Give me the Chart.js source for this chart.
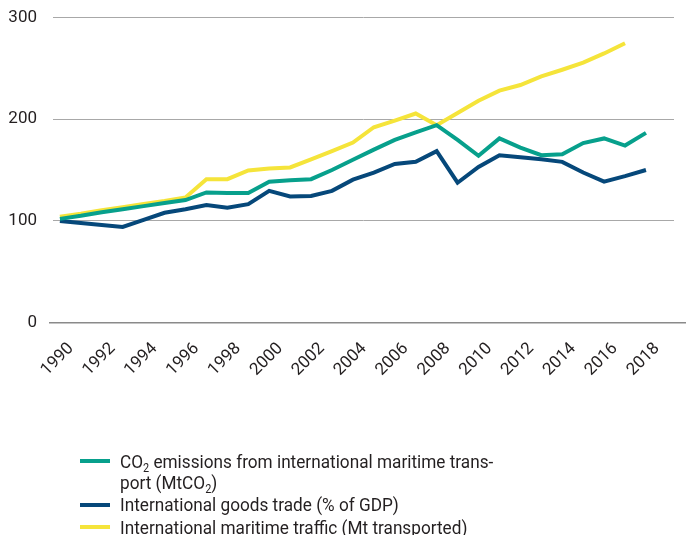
<!DOCTYPE html>
<html>
<head>
<meta charset="utf-8">
<script src="https://cdn.jsdelivr.net/npm/chart.js@4"></script>
<style>
  html, body { margin: 0; padding: 0; background: #fff; overflow: hidden; }
  #wrap { position: relative; width: 686px; height: 535px; overflow: hidden; }
  #legend { position: absolute; left: 80px; top: 450.5px; font-family: Roboto, sans-serif; font-size: 19px; color: #231f20; }
  .row { position: relative; height: 21px; line-height: 21px; white-space: nowrap; }
  .row.first { margin-top: 1.5px; }
  .row.first:first-child { margin-top: 0; }
  .sw { position: absolute; left: 0; width: 30px; height: 4px; top: 8.5px; }
  .tx { position: absolute; left: 40px; top: 0; transform: scaleX(0.905); transform-origin: left center; }
  .tx sub { font-size: 12px; vertical-align: -4px; line-height: 0; }
</style>
</head>
<body>
<div id="wrap">
  <canvas id="c" width="686" height="535"></canvas>
  <div id="legend"></div>
</div>
<script>
const years = [1990,1991,1992,1993,1994,1995,1996,1997,1998,1999,2000,2001,2002,2003,2004,2005,2006,2007,2008,2009,2010,2011,2012,2013,2014,2015,2016,2017,2018];
const co2Emissions = [102,105,108.5,111.5,114.5,117.5,120.5,128,127.5,127.5,138.5,140,141,150,160,170,179.5,187,194,179.5,164,181,172,164.5,165.5,176.5,181,174,186.5];
const goodsTrade = [100,98,96,94,101,108,111.5,115.5,113,116.5,129.5,124,124.5,129.5,140.5,147.5,156,158,168.5,137.5,153,164.5,162.5,160.5,158,147.5,138.5,144,150];
const maritimeTraffic = [104,107,110.5,113.5,116.5,119.5,123,141,141,149.5,151.5,152.5,160.5,168.5,177,192,198.5,205.5,194,206,218,228,233.5,242,248.5,255.5,264.5,274.5,null];
const xTickLabels = [1990,1992,1994,1996,1998,2000,2002,2004,2006,2008,2010,2012,2014,2016,2018];
const yTickLabels = [0,100,200,300];
const seriesNames = [
  ['CO<sub>2</sub> emissions from international maritime trans-', 'port (MtCO<sub>2</sub>)'],
  ['International goods trade (% of GDP)'],
  ['International maritime traffic (Mt transported)']
];
const seriesColors = ['#07a08c', '#06487a', '#f5e43a'];

const toPts = arr => arr.map((v, i) => ({x: years[i], y: v}));

const zeroLine = {
  id: 'zeroLine',
  beforeDatasetsDraw(chart) {
    const y = chart.scales.y.getPixelForValue(0);
    const ctx = chart.ctx;
    ctx.save();
    ctx.strokeStyle = '#8a8a8a';
    ctx.lineWidth = 1.5;
    ctx.beginPath();
    ctx.moveTo(49, y);
    ctx.lineTo(chart.width, y);
    ctx.stroke();
    ctx.restore();
  }
};

const htmlLegend = {
  id: 'htmlLegend',
  afterUpdate(chart) {
    const box = document.getElementById('legend');
    box.innerHTML = '';
    chart.data.datasets.forEach((ds, i) => {
      seriesNames[i].forEach((line, j) => {
        const row = document.createElement('div');
        row.className = 'row' + (j === 0 ? ' first' : '');
        if (j === 0) {
          const sw = document.createElement('span');
          sw.className = 'sw';
          sw.style.background = ds.borderColor;
          row.appendChild(sw);
        }
        const tx = document.createElement('span');
        tx.className = 'tx';
        tx.innerHTML = line;
        row.appendChild(tx);
        box.appendChild(row);
      });
    });
  }
};

new Chart(document.getElementById('c'), {
  type: 'line',
  data: {
    datasets: [
      {label: 'CO2 emissions from international maritime transport (MtCO2)', data: toPts(co2Emissions), borderColor: seriesColors[0]},
      {label: 'International goods trade (% of GDP)', data: toPts(goodsTrade), borderColor: seriesColors[1]},
      {label: 'International maritime traffic (Mt transported)', data: toPts(maritimeTraffic), borderColor: seriesColors[2]}
    ]
  },
  options: {
    responsive: false,
    animation: false,
    spanGaps: false,
    elements: {
      line: {borderWidth: 4, tension: 0, fill: false},
      point: {radius: 0, hoverRadius: 0}
    },
    layout: {padding: {top: 17.3, right: 12, left: 0, bottom: 0}},
    plugins: {legend: {display: false}, tooltip: {enabled: false}},
    scales: {
      x: {
        type: 'linear',
        min: 1989.67,
        max: 2019.34,
        afterBuildTicks: s => { s.ticks = xTickLabels.map(v => ({value: v})); },
        afterFit: s => { s.height = 212.3; },
        grid: {display: false},
        border: {display: false},
        ticks: {
          includeBounds: false,
          minRotation: 45,
          maxRotation: 45,
          autoSkip: false,
          padding: 8,
          labelOffset: 11,
          color: '#231f20',
          font: {family: 'Roboto', size: 17},
          callback: v => String(v)
        }
      },
      y: {
        min: 0,
        max: 300,
        afterBuildTicks: s => { s.ticks = yTickLabels.map(v => ({value: v})); },
        afterFit: s => { s.width = 53; s.paddingTop = 0; s.paddingBottom = 0; },
        border: {display: false},
        grid: {
          drawTicks: false,
          color: ctx => ctx.tick && ctx.tick.value === 0 ? 'rgba(0,0,0,0)' : '#a8a8a8',
          lineWidth: 1,
          borderDash: [1, 1]
        },
        ticks: {
          padding: 16,
          color: '#231f20',
          font: {family: 'Roboto', size: 17},
          callback: v => String(v)
        }
      }
    }
  },
  plugins: [zeroLine, htmlLegend]
});
</script>
</body>
</html>
